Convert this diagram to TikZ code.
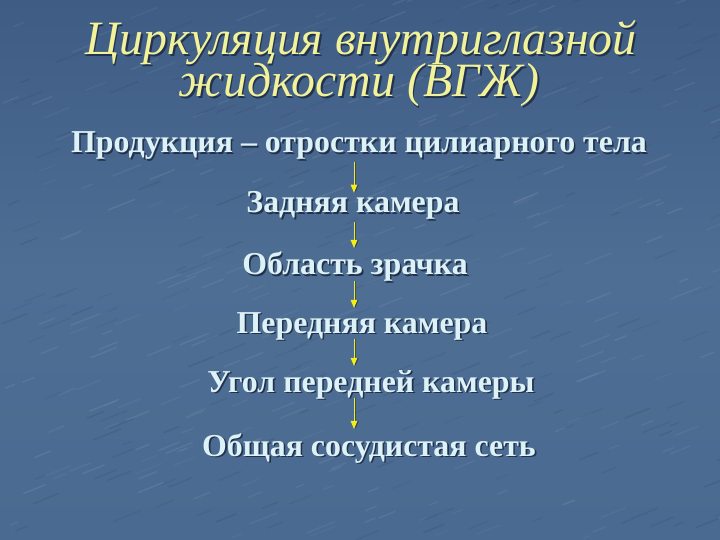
\documentclass[tikz,border=0pt]{standalone}
\usepackage{fontspec}
\setmainfont{Liberation Serif}
\usetikzlibrary{arrows.meta,calc}
\definecolor{bgtop}{HTML}{3E5C84}
\definecolor{bgmid}{HTML}{4F6E94}
\definecolor{bgbot}{HTML}{4B6A91}
\definecolor{txt}{HTML}{DCF2F6}
\definecolor{ttl}{HTML}{F2F29A}
\definecolor{shd}{HTML}{22324C}
\definecolor{arrc}{HTML}{F2EE1A}
\newcommand{\shadowed}[1]{\makebox[0pt][l]{\hspace{1.6bp}\raisebox{-1.6bp}{\color{shd}#1}}#1}
\tikzset{
  body/.style={anchor=base,inner sep=0pt,text=txt,font=\fontsize{32}{36}\selectfont\bfseries},
  title/.style={anchor=base,inner sep=0pt,text=ttl,font=\fontsize{48}{52}\selectfont\itshape},
  arr/.style={draw=arrc,line width=1pt,-{Triangle[length=8bp,width=6.5bp]}},
  arrsh/.style={draw=shd,opacity=0.5,line width=1pt,-{Triangle[length=8bp,width=6.5bp]}}
}
\begin{document}
\begin{tikzpicture}[x=1bp,y=-1bp]
\useasboundingbox (0,0) rectangle (720,540);
\shade[top color=bgtop,bottom color=bgbot,middle color=bgmid] (0,0) rectangle (720,540);
\pgfmathsetseed{7}
\foreach \i in {1,...,260}{
  \pgfmathsetmacro{\xx}{rnd*720}
  \pgfmathsetmacro{\yy}{rnd*540}
  \pgfmathsetmacro{\ll}{8+rnd*22}
  \pgfmathsetmacro{\oo}{0.03+rnd*0.05}
  \draw[white,opacity=\oo,line width=1.5bp] (\xx,\yy) -- ++(\ll,-0.4*\ll);
}
\foreach \i in {1,...,200}{
  \pgfmathsetmacro{\xx}{rnd*720}
  \pgfmathsetmacro{\yy}{rnd*540}
  \pgfmathsetmacro{\ll}{8+rnd*22}
  \pgfmathsetmacro{\oo}{0.03+rnd*0.05}
  \draw[black,opacity=\oo,line width=1.5bp] (\xx,\yy) -- ++(\ll,-0.4*\ll);
}
% title
\node[title] (t1) at (361,55) {\shadowed{Циркуляция внутриглазной}};
\node[title] (t2) at (359,97) {\shadowed{жидкости (ВГЖ)}};
% body
\coordinate (ax) at (354,0);
\node[body] (p) at (359,153) {\shadowed{Продукция – отростки цилиарного тела}};
\node[body] (z) at (353,213) {\shadowed{Задняя камера}};
\node[body] (o) at (355,275) {\shadowed{Область зрачка}};
\node[body] (pk) at (362,333) {\shadowed{Передняя камера}};
\node[body] (u) at (371,392) {\shadowed{Угол передней камеры}};
\node[body] (s) at (369,456) {\shadowed{Общая сосудистая сеть}};
% arrows
\foreach \a/\b/\sa/\sb in {p/z/0/-1, z/o/0/4, o/pk/-3/4, pk/u/-3/4, u/s/-3/4}{
  \draw[arrsh,shorten <=\sa bp,shorten >=\sb bp] ([xshift=1.5bp]\a.south -| ax) -- ([xshift=1.5bp]\b.north -| ax);
  \draw[arr,shorten <=\sa bp,shorten >=\sb bp] (\a.south -| ax) -- (\b.north -| ax);
}
\end{tikzpicture}
\end{document}
